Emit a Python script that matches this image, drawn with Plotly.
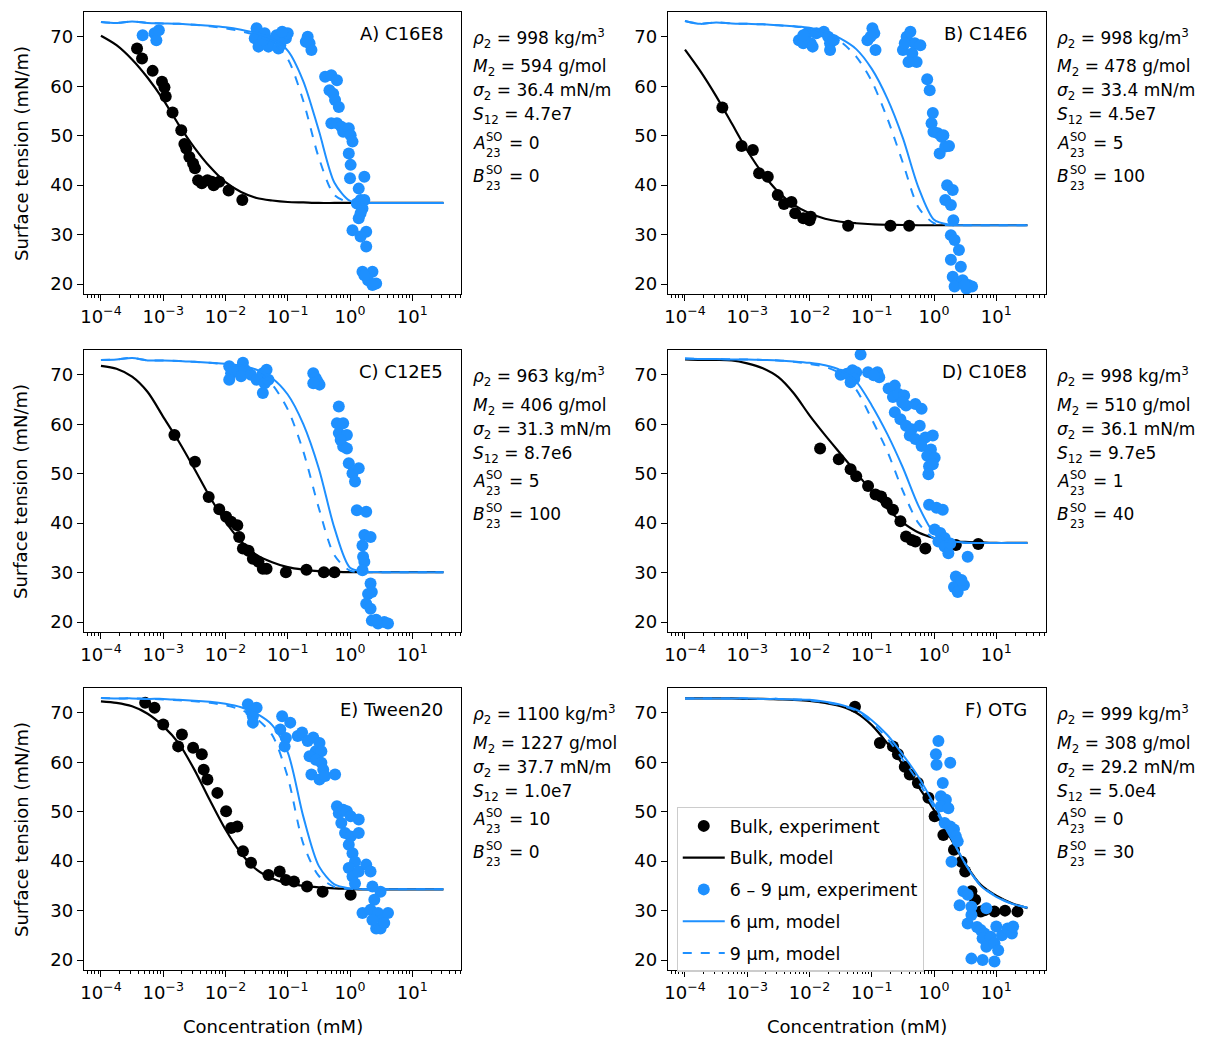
import plotly.graph_objects as go

# ---------------- data ----------------
# model curves are sampled on a log10 concentration grid (mM)
MODEL_LOGC = [-4.0, -3.75, -3.5, -3.25, -3.0, -2.75, -2.5, -2.25, -2.0, -1.75, -1.5,
              -1.25, -1.0, -0.75, -0.5, -0.25, 0.0, 0.25, 0.5, 0.75, 1.0, 1.25, 1.5]

PANELS = ["A) C16E8", "B) C14E6", "C) C12E5", "D) C10E8", "E) Tween20", "F) OTG"]

# bulk experiment: (log10 concentration, surface tension)
A_BULK_PTS = [(-3.42, 67.6), (-3.34, 65.6), (-3.17, 63.1), (-3.02, 60.9), (-2.98, 59.8), (-2.96, 57.9),
              (-2.85, 54.7), (-2.71, 51.1), (-2.66, 48.3), (-2.63, 47.4), (-2.58, 45.7), (-2.52, 44.4),
              (-2.49, 43.4), (-2.44, 41.0), (-2.38, 40.4), (-2.29, 41.0), (-2.22, 40.7), (-2.19, 40.0),
              (-2.10, 40.7), (-1.95, 38.9), (-1.73, 37.0)]
B_BULK_PTS = [(-3.40, 55.7), (-3.09, 47.9), (-2.91, 47.1), (-2.81, 42.4), (-2.67, 41.7), (-2.51, 38.0),
              (-2.41, 36.2), (-2.29, 36.6), (-2.23, 34.3), (-2.10, 33.3), (-2.00, 32.9), (-1.98, 33.6),
              (-1.38, 31.8), (-0.70, 31.8), (-0.40, 31.8)]
C_BULK_PTS = [(-2.82, 57.8), (-2.49, 52.4), (-2.27, 45.3), (-2.10, 42.8), (-1.99, 41.3), (-1.91, 40.3),
              (-1.81, 39.6), (-1.78, 37.2), (-1.72, 34.9), (-1.63, 34.4), (-1.56, 32.8), (-1.47, 32.2),
              (-1.40, 30.8), (-1.34, 30.8), (-1.03, 30.1), (-0.70, 30.6), (-0.42, 30.1), (-0.25, 30.1)]
D_BULK_PTS = [(-1.83, 55.1), (-1.53, 52.9), (-1.34, 50.9), (-1.25, 49.5), (-1.06, 47.5), (-0.94, 45.8),
              (-0.85, 45.4), (-0.76, 44.1), (-0.66, 42.7), (-0.54, 40.4), (-0.45, 37.3), (-0.36, 36.6),
              (-0.30, 36.3), (-0.14, 34.9), (0.35, 35.6), (0.71, 35.8)]
E_BULK_PTS = [(-3.29, 72.0), (-3.14, 71.0), (-3.00, 67.6), (-2.76, 63.2), (-2.70, 65.6), (-2.52, 62.9),
              (-2.38, 61.6), (-2.35, 58.5), (-2.29, 56.5), (-2.13, 53.8), (-1.99, 50.1), (-1.91, 46.7),
              (-1.81, 47.0), (-1.72, 42.0), (-1.59, 39.7), (-1.31, 37.2), (-1.13, 37.9), (-1.03, 36.2),
              (-0.90, 35.9), (-0.69, 34.9), (-0.44, 33.8), (0.01, 33.2)]
F_BULK_PTS = [(-1.27, 71.2), (-0.87, 63.9), (-0.66, 63.2), (-0.58, 61.6), (-0.47, 59.1), (-0.39, 57.5),
              (-0.26, 55.8), (-0.09, 52.8), (0.01, 49.1), (0.15, 45.3), (0.32, 42.3), (0.44, 39.9),
              (0.50, 37.9), (0.60, 33.9), (0.66, 32.2), (0.81, 30.1), (0.97, 29.8), (1.14, 30.0),
              (1.34, 29.8), (0.75, 29.8)]

# 6-9 um experiment: (log10 concentration, surface tension)
A_MICRO_PTS = [(-3.33, 70.3), (-3.14, 70.7), (-3.11, 69.3), (-3.07, 71.3),
               (-1.50, 71.7), (-1.53, 69.7), (-1.47, 68.0), (-1.37, 70.7), (-1.28, 69.3), (-1.18, 70.3),
               (-1.12, 68.3), (-1.03, 69.7), (-1.00, 70.7), (-1.09, 71.0), (-1.31, 68.0), (-1.40, 69.3),
               (-1.15, 67.6), (-0.68, 70.0), (-0.65, 68.7), (-0.62, 67.3), (-0.71, 69.0),
               (-0.40, 61.9), (-0.30, 62.2), (-0.21, 61.2), (-0.33, 59.2), (-0.27, 58.5), (-0.24, 57.2),
               (-0.18, 55.8), (-0.30, 52.5), (-0.21, 52.5), (-0.14, 51.8), (-0.11, 50.8), (-0.02, 51.5),
               (0.01, 50.1), (0.04, 48.8), (-0.02, 46.4), (0.01, 44.1), (0.00, 41.4), (0.23, 41.7),
               (0.14, 39.3), (0.17, 37.0), (0.11, 36.3), (0.20, 35.3), (0.23, 37.0), (0.14, 33.3),
               (0.17, 34.3), (0.04, 30.9), (0.26, 30.6), (0.26, 27.6), (0.17, 29.6), (0.20, 22.5),
               (0.36, 22.5), (0.29, 20.8), (0.42, 20.1), (0.36, 19.8), (0.23, 21.8)]
B_MICRO_PTS = [(-2.17, 69.3), (-2.10, 68.7), (-2.04, 70.7), (-1.98, 68.7), (-1.95, 68.0), (-1.89, 70.7),
               (-1.77, 71.0), (-1.70, 70.0), (-1.67, 68.7), (-1.67, 67.3), (-1.61, 69.3), (-2.10, 70.3),
               (-1.07, 69.3), (-0.99, 71.7), (-0.96, 70.7), (-0.94, 67.3), (-1.02, 70.0),
               (-0.50, 67.3), (-0.44, 70.0), (-0.38, 71.0), (-0.31, 68.7), (-0.35, 66.6), (-0.28, 64.9),
               (-0.22, 68.3), (-0.41, 64.9), (-0.47, 68.7),
               (-0.11, 61.4), (-0.07, 59.2), (-0.02, 54.6), (-0.04, 52.5), (-0.01, 50.8), (0.06, 50.5),
               (0.12, 49.8), (0.15, 50.1), (0.09, 46.4), (0.18, 47.8), (0.24, 47.9), (0.21, 40.0),
               (0.30, 39.0), (0.18, 37.0), (0.27, 36.0), (0.31, 32.9), (0.27, 29.9), (0.33, 28.9),
               (0.40, 26.9), (0.27, 24.9), (0.43, 23.5), (0.30, 21.5), (0.37, 20.1), (0.46, 20.8),
               (0.55, 19.8), (0.61, 19.5), (0.52, 19.1), (0.33, 19.5), (0.49, 19.8)]
C_MICRO_PTS = [(-1.94, 71.7), (-1.91, 70.3), (-1.94, 69.0), (-1.81, 71.0), (-1.72, 72.4), (-1.69, 71.0),
               (-1.75, 69.7), (-1.59, 70.0), (-1.50, 69.0), (-1.40, 70.3), (-1.34, 71.0), (-1.37, 68.3),
               (-1.40, 66.3), (-1.31, 69.0),
               (-0.59, 70.3), (-0.55, 69.3), (-0.49, 68.0), (-0.52, 68.6), (-0.59, 68.3),
               (-0.18, 63.6), (-0.21, 60.2), (-0.11, 60.2), (-0.18, 58.2), (-0.05, 57.8), (-0.11, 55.5),
               (-0.15, 56.8), (-0.05, 55.1), (-0.02, 52.1), (0.04, 50.1), (0.14, 51.1), (0.08, 48.4),
               (0.11, 42.6), (0.26, 42.3), (0.23, 37.6), (0.33, 37.2), (0.20, 35.5), (0.21, 33.2),
               (0.23, 32.2), (0.20, 30.5), (0.33, 27.8), (0.29, 25.7), (0.35, 26.1), (0.26, 23.7),
               (0.33, 22.7), (0.35, 20.3), (0.45, 19.7), (0.55, 20.0), (0.61, 19.7), (0.42, 20.5)]
D_MICRO_PTS = [(-1.18, 74.1), (-1.50, 70.0), (-1.40, 70.2), (-1.31, 70.9), (-1.25, 70.5), (-1.28, 69.2),
               (-1.34, 68.5), (-1.06, 70.5), (-0.91, 70.5), (-0.88, 69.5), (-0.97, 69.9), (-0.73, 67.2),
               (-0.63, 67.8), (-0.66, 65.5), (-0.57, 66.1), (-0.48, 65.8), (-0.45, 63.8), (-0.63, 62.4),
               (-0.51, 64.4), (-0.30, 64.1), (-0.20, 63.1), (-0.54, 61.0), (-0.45, 59.7), (-0.36, 59.0),
               (-0.23, 59.7), (-0.39, 57.7), (-0.30, 57.0), (-0.14, 57.3), (-0.02, 57.7), (-0.20, 55.6),
               (-0.05, 54.9), (-0.11, 53.6), (0.01, 53.2), (-0.08, 51.5), (-0.02, 51.9), (-0.09, 49.9),
               (-0.08, 43.7), (0.04, 43.1), (0.14, 42.7), (0.01, 38.7), (0.10, 38.0), (0.17, 37.0),
               (0.07, 36.3), (0.17, 35.3), (0.23, 33.9), (0.26, 35.9), (0.54, 33.2), (0.35, 29.2),
               (0.41, 27.8), (0.32, 27.1), (0.38, 26.1), (0.48, 27.5), (0.44, 28.5)]
E_MICRO_PTS = [(-1.64, 71.7), (-1.59, 70.3), (-1.56, 69.3), (-1.50, 71.0), (-1.56, 68.0),
               (-1.09, 69.3), (-1.12, 66.6), (-1.03, 64.9), (-1.05, 63.2), (-0.96, 68.0), (-0.84, 65.3),
               (-0.77, 66.0), (-0.68, 64.3), (-0.59, 65.0), (-0.49, 63.9), (-0.55, 62.2), (-0.46, 62.2),
               (-0.65, 61.2), (-0.55, 60.5), (-0.46, 59.9), (-0.43, 58.5), (-0.62, 57.5), (-0.49, 56.5),
               (-0.40, 57.2), (-0.24, 57.5),
               (-0.21, 51.1), (-0.18, 49.7), (-0.11, 50.4), (-0.05, 50.1), (0.01, 49.1), (0.14, 48.4),
               (-0.14, 47.7), (-0.08, 45.7), (0.01, 45.0), (0.14, 45.7), (-0.02, 43.3), (0.04, 41.6),
               (0.08, 39.9), (-0.02, 38.6), (0.04, 36.9), (0.14, 37.9), (0.26, 39.3), (0.33, 37.9),
               (0.08, 35.5), (0.36, 34.9), (0.49, 33.8), (0.39, 32.2), (0.20, 29.5), (0.33, 30.2),
               (0.45, 29.5), (0.52, 28.1), (0.42, 26.4), (0.49, 26.4), (0.61, 29.5), (0.55, 27.5),
               (0.36, 28.1)]
F_MICRO_PTS = [(0.07, 64.3), (0.03, 61.6), (0.04, 59.5), (0.26, 59.9), (0.14, 55.8), (0.11, 53.1),
               (0.19, 52.4), (0.11, 51.1), (0.23, 50.7), (0.17, 47.7), (0.26, 47.0), (0.32, 46.4),
               (0.35, 45.0), (0.38, 44.0), (0.28, 39.9), (0.47, 33.9), (0.54, 33.2), (0.41, 31.1),
               (0.60, 30.8), (0.54, 27.4), (0.60, 29.1), (0.69, 26.7), (0.75, 26.1), (0.81, 25.4),
               (0.78, 24.4), (0.84, 22.7), (0.91, 24.7), (0.97, 23.4), (1.03, 22.0), (1.09, 25.0),
               (1.18, 26.4), (1.25, 25.4), (1.27, 26.8), (0.60, 20.3), (0.78, 20.0), (0.97, 19.7),
               (0.84, 30.5), (1.00, 26.8)]

# model curves on MODEL_LOGC
A_BULK_MODEL = [70.2, 68.3, 65.4, 61.7, 57.3, 52.2, 47.6, 43.7, 40.6, 38.6, 37.4, 36.9, 36.6, 36.5, 36.4,
                36.4, 36.4, 36.4, 36.4, 36.4, 36.4, 36.4, 36.4]
A_6UM_MODEL = [73.0, 72.8, 73.1, 72.8, 72.7, 72.6, 72.4, 72.2, 71.9, 71.4, 70.7, 69.6, 67.2, 61.0, 51.0,
               40.5, 36.8, 36.4, 36.4, 36.4, 36.4, 36.4, 36.4]
A_9UM_MODEL = [73.0, 72.8, 73.1, 72.8, 72.7, 72.6, 72.4, 72.1, 71.7, 71.1, 70.3, 68.9, 65.5, 57.0, 45.5,
               38.0, 36.5, 36.4, 36.4, 36.4, 36.4, 36.4, 36.4]
B_BULK_MODEL = [67.4, 63.0, 58.0, 52.5, 47.0, 42.3, 38.6, 36.0, 34.3, 33.2, 32.6, 32.3, 32.1, 32.0, 31.95,
                31.9, 31.9, 31.9, 31.9, 31.9, 31.9, 31.9, 31.9]
B_6UM_MODEL = [73.2, 72.6, 72.9, 72.7, 72.6, 72.5, 72.3, 72.1, 71.8, 71.0, 69.6, 67.5, 63.5, 57.5, 49.5,
               39.5, 33.0, 32.0, 31.9, 31.9, 31.9, 31.9, 31.9]
B_9UM_MODEL = [73.2, 72.6, 72.9, 72.7, 72.6, 72.5, 72.3, 72.1, 71.7, 70.7, 69.0, 66.0, 61.0, 53.5, 44.5,
               35.5, 32.3, 31.9, 31.9, 31.9, 31.9, 31.9, 31.9]
C_BULK_MODEL = [71.8, 71.2, 69.6, 66.5, 61.5, 56.5, 51.0, 45.3, 40.3, 36.3, 33.6, 32.1, 31.1, 30.6, 30.3,
                30.2, 30.1, 30.1, 30.1, 30.1, 30.1, 30.1, 30.1]
C_6UM_MODEL = [73.0, 73.1, 73.4, 72.9, 72.9, 72.8, 72.6, 72.4, 72.2, 71.8, 71.0, 69.3, 66.0, 60.0, 51.0,
               39.0, 31.0, 30.2, 30.1, 30.1, 30.1, 30.1, 30.1]
C_9UM_MODEL = [73.0, 73.1, 73.4, 72.9, 72.9, 72.8, 72.6, 72.4, 72.1, 71.6, 70.6, 68.0, 63.0, 54.5, 43.0,
               33.5, 30.4, 30.1, 30.1, 30.1, 30.1, 30.1, 30.1]
D_BULK_MODEL = [73.1, 73.0, 73.0, 72.9, 72.3, 71.3, 69.5, 66.2, 61.8, 57.8, 54.0, 50.2, 46.4, 42.9, 40.1,
                38.1, 37.0, 36.4, 36.2, 36.1, 36.0, 36.0, 36.0]
D_6UM_MODEL = [73.3, 73.2, 73.2, 73.1, 73.1, 73.0, 72.9, 72.7, 72.4, 71.9, 70.9, 68.6, 63.8, 58.0, 51.2,
               43.5, 38.0, 36.4, 36.1, 36.0, 36.0, 36.0, 36.0]
D_9UM_MODEL = [73.3, 73.2, 73.2, 73.1, 73.1, 73.0, 72.9, 72.6, 72.2, 71.6, 70.2, 67.0, 61.0, 54.5, 46.5,
               40.0, 36.9, 36.2, 36.0, 36.0, 36.0, 36.0, 36.0]
E_BULK_MODEL = [72.3, 72.0, 71.3, 69.8, 67.3, 63.8, 58.5, 52.3, 46.4, 41.6, 38.3, 36.5, 35.5, 35.0, 34.7,
                34.5, 34.4, 34.3, 34.3, 34.3, 34.3, 34.3, 34.3]
E_6UM_MODEL = [73.0, 72.9, 72.9, 72.8, 72.8, 72.6, 72.4, 72.2, 71.8, 71.1, 69.8, 67.5, 62.0, 49.0, 39.0,
               35.3, 34.5, 34.3, 34.3, 34.3, 34.3, 34.3, 34.3]
E_9UM_MODEL = [73.0, 72.9, 72.9, 72.8, 72.7, 72.5, 72.3, 72.0, 71.5, 70.6, 68.8, 65.5, 57.0, 43.5, 37.0,
               34.8, 34.4, 34.3, 34.3, 34.3, 34.3, 34.3, 34.3]
F_BULK_MODEL = [72.9, 72.9, 72.9, 72.9, 72.8, 72.8, 72.7, 72.6, 72.4, 72.0, 71.3, 70.0, 67.5, 63.8, 59.5,
                55.0, 50.3, 45.0, 39.5, 35.2, 33.0, 31.5, 30.5]
F_6UM_MODEL = [72.9, 72.9, 72.9, 72.9, 72.9, 72.8, 72.8, 72.7, 72.6, 72.2, 71.6, 70.6, 68.5, 65.5, 61.5,
               57.0, 51.5, 45.5, 39.5, 35.0, 32.8, 31.4, 30.6]
F_9UM_MODEL = [72.9, 72.9, 72.9, 72.9, 72.9, 72.8, 72.8, 72.7, 72.5, 72.1, 71.5, 70.4, 68.0, 64.8, 60.5,
               56.0, 50.8, 45.2, 39.5, 35.1, 32.9, 31.4, 30.6]

PARAMS = [
    ["998 kg/m<sup>3</sup>", "594 g/mol", "36.4 mN/m", "4.7e7", "0", "0"],
    ["998 kg/m<sup>3</sup>", "478 g/mol", "33.4 mN/m", "4.5e7", "5", "100"],
    ["963 kg/m<sup>3</sup>", "406 g/mol", "31.3 mN/m", "8.7e6", "5", "100"],
    ["998 kg/m<sup>3</sup>", "510 g/mol", "36.1 mN/m", "9.7e5", "1", "40"],
    ["1100 kg/m<sup>3</sup>", "1227 g/mol", "37.7 mN/m", "1.0e7", "10", "0"],
    ["999 kg/m<sup>3</sup>", "308 g/mol", "29.2 mN/m", "5.0e4", "0", "30"],
]
PARAM_NAMES = ["<i>ρ</i><sub>2</sub>", "<i>M</i><sub>2</sub>", "<i>σ</i><sub>2</sub>",
               "<i>S</i><sub>12</sub>", "<i>A</i>", "<i>B</i>"]
PARAM_SUPERS = ["", "", "", "", "SO", "SO"]
PARAM_SUBS = ["", "", "", "", "23", "23"]

BULK_PTS = [A_BULK_PTS, B_BULK_PTS, C_BULK_PTS, D_BULK_PTS, E_BULK_PTS, F_BULK_PTS]
MICRO_PTS = [A_MICRO_PTS, B_MICRO_PTS, C_MICRO_PTS, D_MICRO_PTS, E_MICRO_PTS, F_MICRO_PTS]
BULK_MODEL = [A_BULK_MODEL, B_BULK_MODEL, C_BULK_MODEL, D_BULK_MODEL, E_BULK_MODEL, F_BULK_MODEL]
M6_MODEL = [A_6UM_MODEL, B_6UM_MODEL, C_6UM_MODEL, D_6UM_MODEL, E_6UM_MODEL, F_6UM_MODEL]
M9_MODEL = [A_9UM_MODEL, B_9UM_MODEL, C_9UM_MODEL, D_9UM_MODEL, E_9UM_MODEL, F_9UM_MODEL]

# ---------------- layout geometry (reference pixel coords; page has an 8px body margin) ----------------
OFF = 8
W, H = 1206 - 2 * OFF, 1039 - OFF
COL_X = [(80, 459), (666, 1045)]
ROW_Y = [(12, 294), (350, 632), (688, 970)]
BLUE = "#1E90FF"
FONT = "DejaVu Sans"
FS = 18


def px(x):
    return (x - OFF) / W


def py(y):
    return 1 - (y - OFF) / H


fig = go.Figure()
model_x = [10 ** v for v in MODEL_LOGC]

for i in range(6):
    ax = "" if i == 0 else str(i + 1)
    xa, ya = "x" + ax, "y" + ax
    leg = (i == 5)
    bx = [10 ** p[0] for p in BULK_PTS[i]]
    by = [p[1] for p in BULK_PTS[i]]
    mx = [10 ** p[0] for p in MICRO_PTS[i]]
    my = [p[1] for p in MICRO_PTS[i]]
    fig.add_trace(go.Scatter(x=bx, y=by, mode="markers", marker=dict(color="black", size=12),
                             name="Bulk, experiment", showlegend=leg, legendgroup="g1",
                             xaxis=xa, yaxis=ya))
    fig.add_trace(go.Scatter(x=model_x, y=BULK_MODEL[i], mode="lines",
                             line=dict(color="black", width=2.2, shape="spline", smoothing=0.8),
                             name="Bulk, model", showlegend=leg, legendgroup="g2",
                             xaxis=xa, yaxis=ya))
    fig.add_trace(go.Scatter(x=mx, y=my, mode="markers", marker=dict(color=BLUE, size=12),
                             name="6 – 9 μm, experiment", showlegend=leg, legendgroup="g3",
                             xaxis=xa, yaxis=ya))
    fig.add_trace(go.Scatter(x=model_x, y=M6_MODEL[i], mode="lines",
                             line=dict(color=BLUE, width=2, shape="spline", smoothing=0.8),
                             name="6 μm, model", showlegend=leg, legendgroup="g4",
                             xaxis=xa, yaxis=ya))
    fig.add_trace(go.Scatter(x=model_x, y=M9_MODEL[i], mode="lines",
                             line=dict(color=BLUE, width=2, dash="dash", shape="spline", smoothing=0.8),
                             name="9 μm, model", showlegend=leg, legendgroup="g5",
                             xaxis=xa, yaxis=ya))

major = [1e-4, 1e-3, 1e-2, 1e-1, 1e0, 1e1]
major_txt = ["10<sup>−4</sup>", "10<sup>−3</sup>", "10<sup>−2</sup>", "10<sup>−1</sup>",
             "10<sup>0</sup>", "10<sup>1</sup>"]
minor_vals = [m * 10 ** k for k in range(-5, 2) for m in range(2, 10)]
minor_vals = [v for v in minor_vals if 5.3e-5 < v < 61]

layout = dict(width=W, height=H, margin=dict(l=0, r=0, t=0, b=0),
              paper_bgcolor="white", plot_bgcolor="white",
              font=dict(family=FONT, size=FS, color="black"),
              showlegend=True,
              legend=dict(x=px(675), y=py(807), xanchor="left", yanchor="top",
                          bgcolor="rgba(255,255,255,0.8)", bordercolor="#cccccc", borderwidth=1,
                          font=dict(family=FONT, size=17.5), tracegroupgap=6, itemwidth=42))
annotations = []


def add_text(x, y, text, size, xanchor="left", yanchor="middle", angle=0):
    annotations.append(dict(x=x, y=y, xref="paper", yref="paper", text=text, showarrow=False,
                            xanchor=xanchor, yanchor=yanchor, textangle=angle,
                            font=dict(size=size), borderpad=0))


for i in range(6):
    r, c = divmod(i, 2)
    ax = "" if i == 0 else str(i + 1)
    x0, x1 = COL_X[c]
    y0, y1 = ROW_Y[r]
    layout["xaxis" + ax] = dict(
        type="log", range=[-4.276, 1.79], domain=[px(x0), px(x1)], anchor="y" + ax,
        tickmode="array", tickvals=major, ticktext=major_txt, ticks="outside", ticklen=6,
        tickwidth=1, tickcolor="black", showline=True, linecolor="black", linewidth=1,
        mirror=True, showgrid=False, zeroline=False, tickfont=dict(size=FS),
        minor=dict(tickmode="array", tickvals=minor_vals, ticks="outside", ticklen=3,
                   tickwidth=1, tickcolor="black", showgrid=False))
    layout["yaxis" + ax] = dict(
        range=[18, 75], domain=[py(y1), py(y0)], anchor="x" + ax,
        tickmode="array", tickvals=[20, 30, 40, 50, 60, 70], ticks="outside", ticklen=6,
        tickwidth=1, tickcolor="black", showline=True, linecolor="black", linewidth=1,
        mirror=True, showgrid=False, zeroline=False, tickfont=dict(size=FS))
    # panel label
    add_text(px(x1 - 18), py(y0 + 21), PANELS[i], FS, xanchor="right")
    # parameter text block
    offs = [26, 56, 80, 104, 131, 164]
    tx = x1 + 11
    for k in range(6):
        yc = y0 + offs[k]
        if PARAM_SUPERS[k]:
            add_text(px(tx), py(yc), PARAM_NAMES[k], 17)
            add_text(px(tx + 13), py(yc + 2), PARAM_SUPERS[k], 11.5, yanchor="bottom")
            add_text(px(tx + 13), py(yc + 2), PARAM_SUBS[k], 11.5, yanchor="top")
            add_text(px(tx + 36), py(yc), "= " + PARAMS[i][k], 17)
        else:
            add_text(px(tx), py(yc), PARAM_NAMES[k] + " = " + PARAMS[i][k], 17)
    if c == 0:
        add_text(px(17), py((y0 + y1) / 2), "Surface tension (mN/m)", FS,
                 xanchor="center", angle=-90)
    if r == 2:
        add_text(px((x0 + x1) / 2), py(1026), "Concentration (mM)", FS, xanchor="center")
layout["annotations"] = annotations
fig.update_layout(**layout)
fig.write_html("out.html")
